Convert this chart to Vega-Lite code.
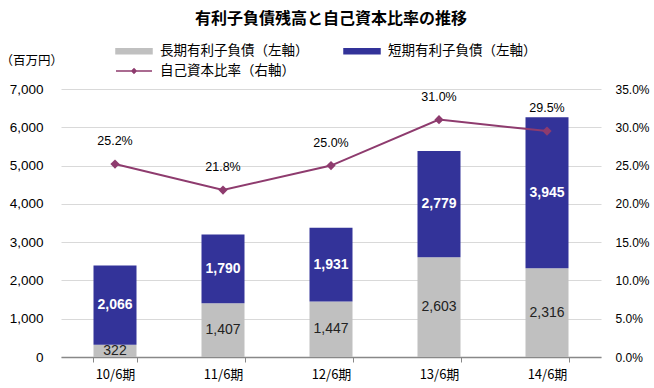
{
  "$schema": "https://vega.github.io/schema/vega-lite/v6.json",
  "width": 540,
  "height": 268,
  "autosize": {"type": "none"},
  "padding": {"left": 61, "top": 89, "right": 53, "bottom": 31},
  "background": "white",
  "config": {
    "font": "Liberation Sans, Noto Sans CJK JP",
    "view": {"stroke": null}
  },
  "title": {
    "text": "有利子負債残高と自己資本比率の推移",
    "font": "Noto Sans CJK JP",
    "fontSize": 16,
    "fontWeight": "bold",
    "color": "#000000",
    "anchor": "middle",
    "frame": "group",
    "offset": 14
  },
  "datasets": {
    "debt": [
      {"period": "10/6期", "series": "長期有利子負債（左軸）", "order": 1, "value": 322},
      {"period": "10/6期", "series": "短期有利子負債（左軸）", "order": 2, "value": 2066},
      {"period": "11/6期", "series": "長期有利子負債（左軸）", "order": 1, "value": 1407},
      {"period": "11/6期", "series": "短期有利子負債（左軸）", "order": 2, "value": 1790},
      {"period": "12/6期", "series": "長期有利子負債（左軸）", "order": 1, "value": 1447},
      {"period": "12/6期", "series": "短期有利子負債（左軸）", "order": 2, "value": 1931},
      {"period": "13/6期", "series": "長期有利子負債（左軸）", "order": 1, "value": 2603},
      {"period": "13/6期", "series": "短期有利子負債（左軸）", "order": 2, "value": 2779},
      {"period": "14/6期", "series": "長期有利子負債（左軸）", "order": 1, "value": 2316},
      {"period": "14/6期", "series": "短期有利子負債（左軸）", "order": 2, "value": 3945}
    ],
    "ratio": [
      {"period": "10/6期", "ratio": 0.252},
      {"period": "11/6期", "ratio": 0.218},
      {"period": "12/6期", "ratio": 0.250},
      {"period": "13/6期", "ratio": 0.310},
      {"period": "14/6期", "ratio": 0.295}
    ]
  },
  "encoding": {
    "x": {
      "field": "period",
      "type": "nominal",
      "sort": null,
      "scale": {"paddingInner": 0.6, "paddingOuter": 0.3},
      "axis": {
        "title": null,
        "labelAngle": 0,
        "labelFont": "Noto Sans CJK JP",
        "labelFontSize": 13,
        "labelColor": "#000000",
        "labelPadding": 6,
        "domainColor": "#888888",
        "domainWidth": 1.5,
        "tickColor": "#888888",
        "tickBand": "extent",
        "tickSize": 5,
        "grid": false
      }
    }
  },
  "layer": [
    {
      "data": {"name": "debt"},
      "transform": [
        {"stack": "value", "groupby": ["period"], "sort": [{"field": "order"}], "as": ["v0", "v1"]}
      ],
      "layer": [
        {
          "mark": {"type": "bar", "size": 43},
          "encoding": {
            "y": {
              "field": "v0",
              "type": "quantitative",
              "scale": {"domain": [0, 7000]},
              "axis": {
                "title": "（百万円）",
                "titleAngle": 0,
                "titleAlign": "left",
                "titleBaseline": "middle",
                "titleX": -61,
                "titleY": -29,
                "titleFont": "Noto Sans CJK JP",
                "titleFontSize": 12.5,
                "titleFontWeight": "normal",
                "titleColor": "#000000",
                "values": [0, 1000, 2000, 3000, 4000, 5000, 6000, 7000],
                "format": ",d",
                "labelFontSize": 13.5,
                "labelColor": "#000000",
                "labelPadding": 18,
                "labelOverlap": false,
                "domain": false,
                "ticks": false,
                "grid": true,
                "gridColor": "#D9D9D9"
              }
            },
            "y2": {"field": "v1"},
            "color": {
              "field": "series",
              "type": "nominal",
              "scale": {
                "domain": ["長期有利子負債（左軸）", "短期有利子負債（左軸）", "自己資本比率（右軸）"],
                "range": ["#C0C0C0", "#333399", "#8E3B6E"]
              },
              "legend": {
                "title": null,
                "orient": "none",
                "legendX": 54,
                "legendY": -48,
                "direction": "horizontal",
                "columns": 2,
                "columnPadding": 32,
                "rowPadding": 3,
                "labelFont": "Noto Sans CJK JP",
                "labelFontSize": 13.5,
                "labelColor": "#000000",
                "labelOffset": 25,
                "labelLimit": 300,
                "symbolSize": 324,
                "symbolStrokeWidth": 1.5,
                "encode": {
                  "symbols": {
                    "update": {
                      "shape": {"signal": "datum.value === '自己資本比率（右軸）' ? 'M-1,0H3M1,-0.24L1.24,0L1,0.24L0.76,0Z' : 'M-1,-0.28H3V0.28H-1Z'"},
                      "strokeWidth": {"value": 1.5}
                    }
                  }
                }
              }
            }
          }
        },
        {
          "transform": [
            {"filter": "datum.order === 1"},
            {"fold": ["v0", "v1"], "as": ["edge", "pos"]}
          ],
          "mark": {"type": "text", "fontSize": 14, "color": "#222222", "baseline": "middle"},
          "encoding": {
            "y": {
              "aggregate": "mean", "field": "pos", "type": "quantitative",
              "axis": {
                "title": "（百万円）",
                "titleAngle": 0,
                "titleAlign": "left",
                "titleBaseline": "middle",
                "titleX": -61,
                "titleY": -29,
                "titleFont": "Noto Sans CJK JP",
                "titleFontSize": 12.5,
                "titleFontWeight": "normal",
                "titleColor": "#000000",
                "values": [0, 1000, 2000, 3000, 4000, 5000, 6000, 7000],
                "format": ",d",
                "labelFontSize": 13.5,
                "labelColor": "#000000",
                "labelPadding": 18,
                "labelOverlap": false,
                "domain": false,
                "ticks": false,
                "grid": true,
                "gridColor": "#D9D9D9"
              }
            },
            "detail": {"field": "series"},
            "text": {"aggregate": "max", "field": "value", "type": "quantitative", "format": ","}
          }
        },
        {
          "transform": [
            {"filter": "datum.order === 2"},
            {"fold": ["v0", "v1"], "as": ["edge", "pos"]}
          ],
          "mark": {"type": "text", "fontSize": 14, "fontWeight": "bold", "color": "#FFFFFF", "baseline": "middle"},
          "encoding": {
            "y": {
              "aggregate": "mean", "field": "pos", "type": "quantitative",
              "axis": {
                "title": "（百万円）",
                "titleAngle": 0,
                "titleAlign": "left",
                "titleBaseline": "middle",
                "titleX": -61,
                "titleY": -29,
                "titleFont": "Noto Sans CJK JP",
                "titleFontSize": 12.5,
                "titleFontWeight": "normal",
                "titleColor": "#000000",
                "values": [0, 1000, 2000, 3000, 4000, 5000, 6000, 7000],
                "format": ",d",
                "labelFontSize": 13.5,
                "labelColor": "#000000",
                "labelPadding": 18,
                "labelOverlap": false,
                "domain": false,
                "ticks": false,
                "grid": true,
                "gridColor": "#D9D9D9"
              }
            },
            "detail": {"field": "series"},
            "text": {"aggregate": "max", "field": "value", "type": "quantitative", "format": ","}
          }
        }
      ]
    },
    {
      "data": {"name": "ratio"},
      "encoding": {
        "y": {
          "field": "ratio",
          "type": "quantitative",
          "scale": {"domain": [0, 0.35]},
          "axis": {
            "orient": "right",
            "title": null,
            "values": [0, 0.05, 0.1, 0.15, 0.2, 0.25, 0.3, 0.35],
            "format": ".1%",
            "labelFontSize": 12,
            "labelColor": "#000000",
            "labelPadding": 14,
            "labelOverlap": false,
            "domain": false,
            "ticks": false,
            "grid": false
          }
        }
      },
      "layer": [
        {
          "mark": {"type": "line", "strokeWidth": 2},
          "encoding": {"color": {"datum": "自己資本比率（右軸）", "type": "nominal"}}
        },
        {
          "mark": {"type": "point", "shape": "diamond", "filled": true, "size": 85, "opacity": 1, "color": "#8E3B6E"}
        },
        {
          "mark": {"type": "text", "fontSize": 12.5, "color": "#000000", "dy": -23},
          "encoding": {"text": {"field": "ratio", "type": "quantitative", "format": ".1%"}}
        }
      ]
    }
  ],
  "resolve": {"scale": {"y": "independent"}}
}
